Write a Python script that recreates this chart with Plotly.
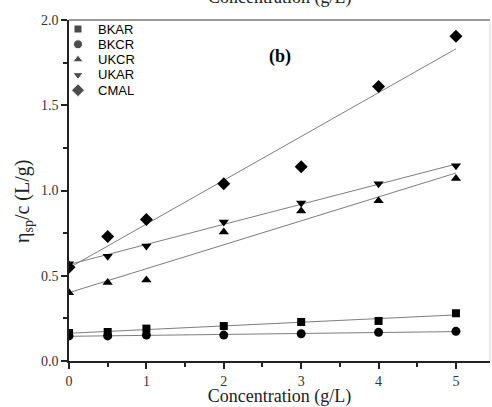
import numpy as np
import plotly.graph_objects as go

# Concentration (g/L)
conc = [0, 0.5, 1, 2, 3, 4, 5]

# Reduced viscosity eta_sp/c (L/g) for each sample
bkar = [0.164, 0.170, 0.190, 0.205, 0.229, 0.235, 0.280]
bkcr = [0.147, 0.147, 0.152, 0.152, 0.160, 0.168, 0.174]
ukcr = [0.400, 0.460, 0.475, 0.757, 0.880, 0.940, 1.070]
ukar = [0.570, 0.615, 0.675, 0.815, 0.927, 1.040, 1.145]
cmal = [0.550, 0.730, 0.830, 1.040, 1.140, 1.610, 1.905]

names = ["BKAR", "BKCR", "UKCR", "UKAR", "CMAL"]
values = [bkar, bkcr, ukcr, ukar, cmal]
symbols = ["square", "circle", "triangle-up", "triangle-down", "diamond"]
sizes = [8, 9, 9, 9, 10]

serif = "Liberation Serif, Times New Roman, serif"
sans = "Liberation Sans, Arial, sans-serif"

W, H = 492, 407
L, R, T, B = 69, 2, 20, 46
PW, PH = W - L - R, H - T - B

fig = go.Figure()

# Linear least-squares fit for each sample (Huggins plot)
x_fit = np.array([0.0, 5.0])
for y in values:
    slope, intercept = np.polyfit(conc, y, 1)
    fig.add_trace(go.Scatter(
        x=x_fit, y=slope * x_fit + intercept, mode="lines",
        line=dict(color="rgb(125,125,125)", width=1),
        showlegend=False, hoverinfo="skip",
    ))

for name, y, sym, sz in zip(names, values, symbols, sizes):
    fig.add_trace(go.Scatter(
        x=conc, y=y, mode="markers", name=name, showlegend=False,
        marker=dict(symbol=sym, size=sz, color="black"),
    ))

# Compact legend in the upper-left corner, laid out on a pixel-based overlay axis
leg_x, leg_y0, leg_dy = 9, PH - 9, 15.3
leg_y = [leg_y0 - i * leg_dy for i in range(len(names))]
fig.add_trace(go.Scatter(
    x=[leg_x] * len(names), y=leg_y, mode="markers",
    marker=dict(symbol=symbols, size=sizes, color="black"),
    xaxis="x2", yaxis="y2", showlegend=False, hoverinfo="skip",
))

annotations = [
    dict(text=n, x=leg_x + 18, y=yy, xref="x2", yref="y2", xanchor="left",
         yanchor="middle", showarrow=False, font=dict(family=sans, size=13, color="black"))
    for n, yy in zip(names, leg_y)
]
annotations += [
    dict(text="<b>(b)</b>", x=0.5, y=(PH - 24) / PH, xref="paper", yref="paper",
         showarrow=False, font=dict(family=serif, size=18, color="black")),
    # y-axis title
    dict(text="η<sub>sp</sub>/c (L/g)", x=-(L - 23) / PW, y=(PH - (202 - T)) / PH,
         xref="paper", yref="paper", textangle=-90, showarrow=False,
         xanchor="center", yanchor="middle",
         font=dict(family=serif, size=20, color="#222")),
    # axis title of the panel above, cut by the top edge
    dict(text="Concentration (g/L)", x=0.5, y=1.0, xref="paper", yref="paper",
         yanchor="bottom", yshift=10, showarrow=False,
         font=dict(family=serif, size=18, color="#222")),
]

fig.update_layout(
    width=W, height=H,
    margin=dict(l=L, r=R, t=T, b=B),
    paper_bgcolor="white", plot_bgcolor="white",
    showlegend=False,
    xaxis=dict(
        range=[0, 5.44], showgrid=False, zeroline=False,
        showline=True, linecolor="#222", linewidth=1.5,
        ticks="outside", tickcolor="#222", ticklen=6, tickwidth=1.5,
        tickvals=[0, 1, 2, 3, 4, 5],
        minor=dict(ticks="outside", tickvals=[0.5, 1.5, 2.5, 3.5, 4.5], ticklen=4,
                   tickcolor="#222", tickwidth=1.5),
        tickfont=dict(family=serif, size=14, color="#333"),
        title=dict(text="Concentration (g/L)", font=dict(family=serif, size=18, color="#222"),
                   standoff=4),
    ),
    yaxis=dict(
        range=[0, 2.0], showgrid=False, zeroline=False,
        showline=True, linecolor="#222", linewidth=1.5,
        ticks="outside", tickcolor="#222", ticklen=6, tickwidth=1.5,
        tickvals=[0, 0.5, 1.0, 1.5, 2.0], tickformat=".1f",
        minor=dict(ticks="outside", tickvals=[0.25, 0.75, 1.25, 1.75], ticklen=4,
                   tickcolor="#222", tickwidth=1.5),
        tickfont=dict(family=serif, size=14, color="#333"),
    ),
    xaxis2=dict(range=[0, PW], overlaying="x", visible=False, fixedrange=True),
    yaxis2=dict(range=[0, PH], overlaying="y", visible=False, fixedrange=True),
    shapes=[
        dict(type="line", xref="paper", yref="paper", x0=0, x1=1, y0=1, y1=1,
             line=dict(color="rgb(120,120,120)", width=1.5)),
        dict(type="line", xref="paper", yref="paper", x0=1, x1=1, y0=0, y1=1,
             line=dict(color="rgb(215,215,215)", width=1)),
    ],
    annotations=annotations,
)

fig.write_html("out.html")
